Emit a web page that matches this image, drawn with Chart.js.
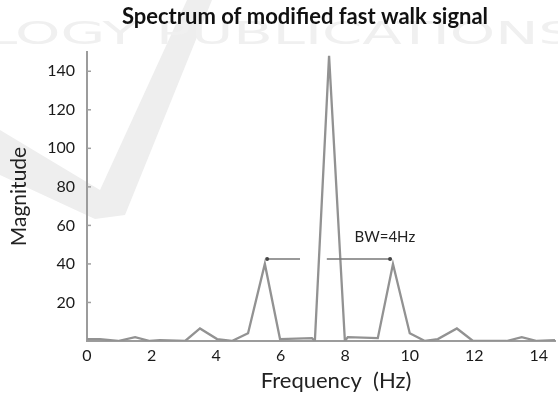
<!DOCTYPE html>
<html>
<head>
<meta charset="utf-8">
<script src="https://cdn.jsdelivr.net/npm/chart.js@4"></script>
<style>
  html, body { margin: 0; padding: 0; background: #fff; }
</style>
</head>
<body>
<canvas id="myChart" width="558" height="394"></canvas>
<script>
// spectrum
const freqHz = [0, 0.4, 0.96, 1.49, 1.95, 2.26, 3.04, 3.5, 4.03, 4.49, 4.99, 5.51, 5.98, 6.97, 7.06, 7.5,
  7.99, 8.08, 9.01, 9.48, 10.0, 10.47, 10.87, 11.46, 11.96, 13.0, 13.47, 13.94, 14.5];
const magnitude = [1, 1, 0, 2, 0, 0.5, 0, 6.5, 1, 0, 4, 40, 1, 1.5, 0, 148,
  0, 2, 1.5, 40, 4, 0, 1, 6.5, 0, 0, 2, 0, 0.5];
const xTicks = [0, 2, 4, 6, 8, 10, 12, 14];
const yTicks = [20, 40, 60, 80, 100, 120, 140];

// bandwidth marker
const bwText = 'BW=4Hz';
const bwLevel = 42.5;
const bwLeftArrow = [5.58, 6.6];
const bwRightArrow = [7.43, 9.39];
const bwTextPos = [8.3, 54];

const chartTitle = 'Spectrum of modified fast walk signal';
const xTitle = 'Frequency  (Hz)';
const watermark = 'LOGY PUBLICATIONS';

const fontName = 'Lato, "Open Sans", sans-serif';

const backdrop = {
  id: 'backdrop',
  beforeDraw(chart) {
    const ctx = chart.ctx;
    ctx.save();
    ctx.fillStyle = '#fff';
    ctx.fillRect(0, 0, chart.width, chart.height);
    // faint publisher mark behind the chart
    ctx.fillStyle = '#eeeeee';
    ctx.beginPath();
    ctx.moveTo(0, 130);
    ctx.lineTo(100, 190);
    ctx.lineTo(187, 0);
    ctx.lineTo(212, 0);
    ctx.lineTo(125, 215);
    ctx.lineTo(95, 219);
    ctx.lineTo(0, 175);
    ctx.closePath();
    ctx.fill();
    ctx.fillStyle = '#f0f0f0';
    ctx.font = '32px "DejaVu Sans", sans-serif';
    ctx.textBaseline = 'alphabetic';
    const w = ctx.measureText(watermark).width;
    ctx.translate(-15, 44);
    ctx.scale(590 / w, 1);
    ctx.fillText(watermark, 0, 0);
    ctx.restore();
  },
  afterDraw(chart) {
    const ctx = chart.ctx;
    const xs = chart.scales.x, ys = chart.scales.y;
    ctx.save();
    // title
    ctx.fillStyle = '#111';
    ctx.font = 'bold 22px ' + fontName;
    ctx.textAlign = 'center';
    ctx.textBaseline = 'middle';
    ctx.fillText(chartTitle, 305, 17);
    // x axis title
    ctx.fillStyle = '#222';
    ctx.font = '22px ' + fontName;
    ctx.fillText(xTitle, 336, 381);
    // small tick marks inside the y axis
    ctx.strokeStyle = '#a0a0a0';
    ctx.lineWidth = 1.5;
    yTicks.forEach(v => {
      const py = ys.getPixelForValue(v);
      ctx.beginPath();
      ctx.moveTo(xs.left, py);
      ctx.lineTo(xs.left + 4, py);
      ctx.stroke();
    });
    // bandwidth arrows
    const py = ys.getPixelForValue(bwLevel);
    ctx.strokeStyle = '#777';
    ctx.lineWidth = 1.5;
    [bwLeftArrow, bwRightArrow].forEach(seg => {
      ctx.beginPath();
      ctx.moveTo(xs.getPixelForValue(seg[0]), py);
      ctx.lineTo(xs.getPixelForValue(seg[1]), py);
      ctx.stroke();
    });
    ctx.fillStyle = '#444';
    [bwLeftArrow[0], bwRightArrow[1]].forEach(v => {
      ctx.beginPath();
      ctx.arc(xs.getPixelForValue(v), py, 2, 0, Math.PI * 2);
      ctx.fill();
    });
    ctx.fillStyle = '#222';
    ctx.font = '15px ' + fontName;
    ctx.fillText(bwText, xs.getPixelForValue(bwTextPos[0]) + 30, ys.getPixelForValue(bwTextPos[1]));
    ctx.restore();
  }
};

const points = freqHz.map((f, i) => ({ x: f, y: magnitude[i] }));

const config = {
  type: 'line',
  data: {
    datasets: [{
      data: points,
      borderColor: '#929292',
      borderWidth: 2.3,
      pointRadius: 0,
      tension: 0
    }]
  },
  options: {
    responsive: false,
    animation: false,
    events: [],
    layout: { padding: { top: 52, right: 3, left: 0, bottom: 0 } },
    plugins: { legend: { display: false }, tooltip: { enabled: false } },
    scales: {
      x: {
        type: 'linear',
        min: 0,
        max: 14.5,
        afterBuildTicks: s => { s.ticks = xTicks.map(v => ({ value: v })); },
        afterFit: s => { s.height = 53; },
        grid: { display: false, drawTicks: false },
        border: { display: true, color: '#9c9c9c', width: 2 },
        ticks: { color: '#1a1a1a', font: { family: fontName, size: 16 }, padding: 5, maxRotation: 0 }
      },
      y: {
        min: 0,
        max: 150,
        afterBuildTicks: s => { s.ticks = yTicks.map(v => ({ value: v })); },
        afterFit: s => { s.width = 87; },
        grid: { display: false, drawTicks: false },
        border: { display: true, color: '#9c9c9c', width: 2 },
        ticks: { color: '#1a1a1a', font: { family: fontName, size: 16 }, padding: 12 },
        title: { display: true, text: 'Magnitude', color: '#222',
          font: { family: fontName, size: 21 }, padding: { top: 7, bottom: 0 } }
      }
    }
  },
  plugins: [backdrop]
};

const myChart = new Chart(document.getElementById('myChart'), config);
</script>
</body>
</html>
